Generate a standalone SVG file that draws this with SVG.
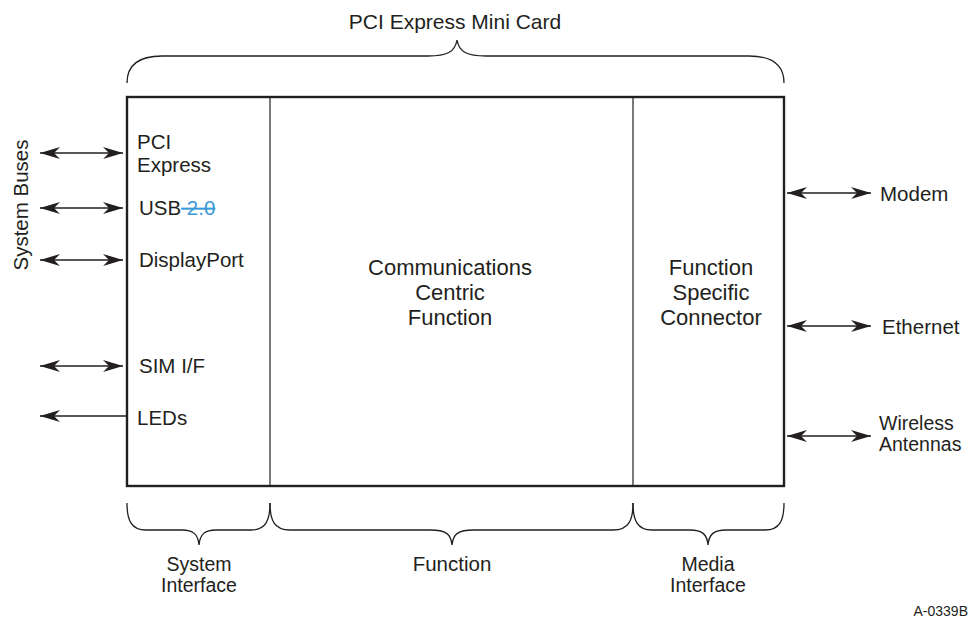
<svg xmlns="http://www.w3.org/2000/svg" width="972" height="622" viewBox="0 0 972 622">
  <style>
    .lbl { font-family: "Liberation Sans", Arial, sans-serif; font-size: 20.5px; fill: #231f20; }
    .two { font-size: 19.5px; }
    .big { font-family: "Liberation Sans", Arial, sans-serif; font-size: 22px; fill: #231f20; text-anchor: middle; }
    .mid { text-anchor: middle; }
    .brace { fill: none; stroke: #231f20; stroke-width: 1.3; }
    .wire { stroke: #231f20; stroke-width: 1.3; fill: none; }
    .dbl { marker-start: url(#head); marker-end: url(#head); }
    .rev { fill: #3a9ad9; text-decoration: line-through; }
  </style>
  <defs>
    <marker id="head" viewBox="-21 -7 22 14" refX="0" refY="0" markerWidth="22" markerHeight="14" markerUnits="userSpaceOnUse" orient="auto-start-reverse">
      <path d="M0,0 L-20,-6 L-14,0 L-20,6 Z" fill="#231f20"/>
    </marker>
  </defs>

  <rect width="972" height="622" fill="#ffffff"/>

  <!-- overall card brace and title -->
  <g id="card-title">
    <text class="lbl mid" x="455" y="29" style="font-size:21px">PCI Express Mini Card</text>
    <path class="brace" d="M127,83 C127,66 137,56 162,56 L428,56 C447,56 455,52 457,40 C459,52 467,56 486,56 L749,56 C774,56 784,66 784,83"/>
  </g>

  <!-- card body -->
  <g id="card">
    <rect x="127" y="97" width="657" height="389" fill="none" stroke="#231f20" stroke-width="2.4"/>
    <line x1="270" y1="97" x2="270" y2="486" stroke="#231f20" stroke-width="1.2"/>
    <line x1="633" y1="97" x2="633" y2="486" stroke="#231f20" stroke-width="1.2"/>
  </g>

  <!-- system interface column -->
  <g id="system-interface">
    <text class="lbl" x="137" y="149">PCI</text>
    <text class="lbl" x="137" y="172">Express</text>
    <text class="lbl" x="139" y="215">USB<tspan class="rev"> 2.0</tspan></text>
    <text class="lbl" x="139" y="267">DisplayPort</text>
    <text class="lbl" x="139" y="373">SIM I/F</text>
    <text class="lbl" x="137" y="425">LEDs</text>
  </g>

  <g id="function">
    <text class="big" x="450" y="275">Communications</text>
    <text class="big" x="450" y="300">Centric</text>
    <text class="big" x="450" y="325">Function</text>
  </g>

  <g id="media-interface">
    <text class="big" x="711" y="275">Function</text>
    <text class="big" x="711" y="300">Specific</text>
    <text class="big" x="711" y="325">Connector</text>
  </g>

  <!-- external labels -->
  <g id="system-buses">
    <text class="lbl mid" transform="translate(28,205) rotate(-90)">System Buses</text>
  </g>
  <g id="modem"><text class="lbl" x="880" y="201">Modem</text></g>
  <g id="ethernet"><text class="lbl" x="882" y="334">Ethernet</text></g>
  <g id="wireless">
    <text class="lbl two" x="879" y="430">Wireless</text>
    <text class="lbl two" x="879" y="451">Antennas</text>
  </g>

  <!-- connectors -->
  <g id="connectors">
    <line class="wire dbl" x1="40" y1="153" x2="123" y2="153"/>
    <line class="wire dbl" x1="40" y1="208" x2="123" y2="208"/>
    <line class="wire dbl" x1="40" y1="260" x2="123" y2="260"/>
    <line class="wire dbl" x1="40" y1="366" x2="123" y2="366"/>
    <line class="wire" x1="127" y1="416" x2="40" y2="416" marker-end="url(#head)"/>
    <line class="wire dbl" x1="787" y1="193" x2="871" y2="193"/>
    <line class="wire dbl" x1="787" y1="326" x2="871" y2="326"/>
    <line class="wire dbl" x1="787" y1="436" x2="871" y2="436"/>
  </g>

  <!-- lower braces and region names -->
  <g id="brace-system">
    <path class="brace" d="M127,503 C127,520 131,530 146,530 L182,530 C193,530 198,534 199,545 C200,534 205,530 216,530 L251,530 C266,530 270,520 270,503"/>
    <text class="lbl two mid" x="199" y="571">System</text>
    <text class="lbl two mid" x="199" y="592">Interface</text>
  </g>
  <g id="brace-function">
    <path class="brace" d="M270,503 C270,520 274,530 290,530 L430,530 C446,530 451,534 452,545 C453,534 458,530 474,530 L613,530 C629,530 633,520 633,503"/>
    <text class="lbl mid" x="452" y="571">Function</text>
  </g>
  <g id="brace-media">
    <path class="brace" d="M633,503 C633,520 637,530 652,530 L690,530 C702,530 707,534 708,545 C709,534 714,530 726,530 L765,530 C780,530 784,520 784,503"/>
    <text class="lbl two mid" x="708" y="571">Media</text>
    <text class="lbl two mid" x="708" y="592">Interface</text>
  </g>

  <text x="968" y="616" text-anchor="end" font-family="Liberation Sans, Arial, sans-serif" font-size="14" fill="#231f20">A-0339B</text>
</svg>
